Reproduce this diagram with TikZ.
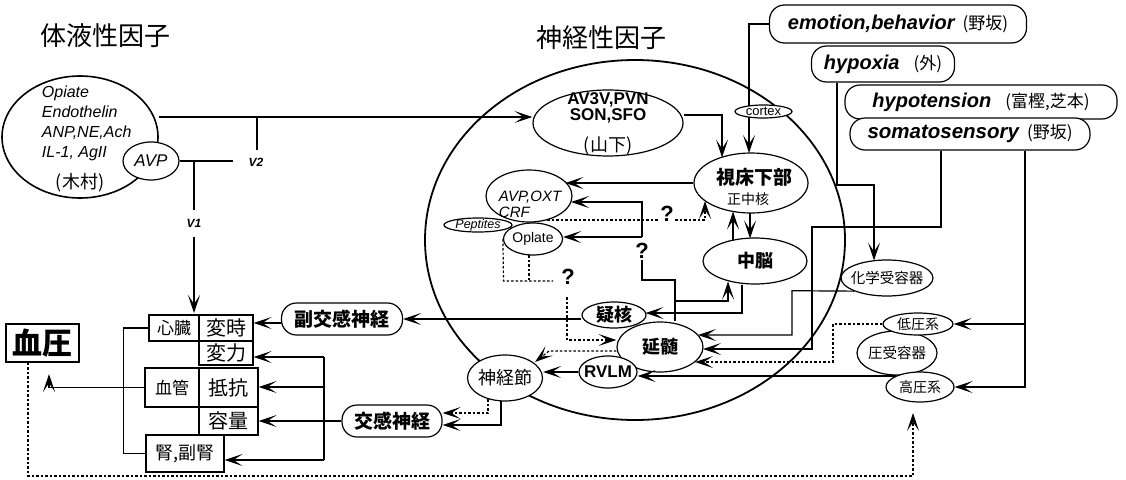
\documentclass[tikz,border=0pt]{standalone}
\usepackage{fontspec}
\setmainfont{Liberation Sans}
\newfontfamily\jp{Noto Sans CJK JP}
\usetikzlibrary{shapes.geometric,arrows.meta,calc}
\newcommand{\fsz}[2]{\fontsize{#1}{#2}\selectfont}
\begin{document}
\begin{tikzpicture}[x=1pt,y=-1pt,line width=1.2pt,
  el/.style={draw,ellipse,inner sep=0pt},
  stad/.style={draw,rectangle,rounded corners=15pt,inner sep=0pt,fill=white},
  bx/.style={draw,rectangle,inner sep=0pt},
  arr/.style={-{Stealth[length=18pt,width=12pt,inset=9pt]}},
  dot/.style={dash pattern=on 2.5pt off 2pt},
  jpl/.style={font=\jp\fsz{#1}{#1}},
  jpb/.style={font=\jp\bfseries\fsz{#1}{#1}},
  qm/.style={font=\bfseries\fsz{22}{22},inner sep=1pt}]
\useasboundingbox (0,0) rectangle (1126,479);

% titles
\node[jpl=26] (t1) at (105,36) {体液性因子};
\node[jpl=26] (t2) at (601,38) {神経性因子};

% humoral factors
\node[el,minimum width=156pt,minimum height=122pt,line width=1.6pt] (hum) at (80,137) {};
\node[anchor=west,align=left,font=\itshape\fsz{16}{20}] (humtxt) at (38,123) {Opiate\\Endothelin\\ANP,NE,Ach\\IL-1, AgII};
\node[jpl=18] (kimura) at (80,183) {(木村)};
\node[el,fill=white,minimum width=56pt,minimum height=38pt,label={[font=\itshape\fsz{17}{17}]center:AVP}] (avp) at (151,161) {};
\node[font=\bfseries\itshape\fsz{12}{12}] (v2) at (256,162) {V2};
\node[font=\bfseries\itshape\fsz{12}{12}] (v1) at (194,223) {V1};

% big circle (neural)
\node[el,minimum width=420pt,minimum height=360pt,line width=1.8pt] (big) at (635,240) {};

% inner nodes
\node[el,fill=white,minimum width=150pt,minimum height=66pt] (av3v) at (608,123) {};
\node[font=\bfseries\fsz{17}{17}] (av3vt) at (608,100) {AV3V,PVN};
\node[font=\bfseries\fsz{17}{17}] (sont) at (608,116) {SON,SFO};
\node[jpl=18] (yama) at (608,146) {(山下)};

\node[el,fill=white,minimum width=114pt,minimum height=60pt] (hypo) at (751,183) {};
\node[jpb=19] (hypot) at (754,177) {視床下部};
\node[jpl=14] (seichu) at (748,199) {正中核};

\node[el,fill=white,minimum width=104pt,minimum height=46pt,label={[jpb=18]center:中脳}] (mid) at (755,261) {};

\node[el,fill=white,minimum width=86pt,minimum height=52pt] (avpoxt) at (529,196) {};
\node[anchor=west,font=\itshape\fsz{15}{15}] (avpoxtt) at (495,197) {AVP,OXT};
\node[anchor=west,font=\itshape\fsz{15}{15}] (crf) at (495,212) {CRF};
\node[el,fill=white,minimum width=59pt,minimum height=32pt,label={[font=\fsz{14}{14}]center:Oplate}] (opi) at (533,239) {};
\node[el,fill=white,minimum width=68pt,minimum height=14pt,label={[font=\itshape\fsz{12.5}{12.5}]center:Peptites}] (pep) at (478,225) {};

\node[el,fill=white,minimum width=57pt,minimum height=13pt,label={[font=\fsz{13}{13}]center:cortex}] (cortex) at (763.5,111.5) {};

\node[el,fill=white,minimum width=86pt,minimum height=50pt,label={[jpb=18]center:延髄}] (enz) at (660,347) {};
\node[el,fill=white,minimum width=64pt,minimum height=26pt,label={[jpb=18]center:疑核}] (gi) at (614,315) {};
\node[el,fill=white,minimum width=58pt,minimum height=32pt,label={[font=\bfseries\fsz{17}{17}]center:RVLM}] (rvlm) at (608,372) {};
\node[el,fill=white,minimum width=75pt,minimum height=46pt,label={[jpl=18]center:神経節}] (sns) at (505,378) {};

\node[qm] (q1) at (667,214) {?};
\node[qm] (q2) at (642,251) {?};
\node[qm] (q3) at (568,277) {?};

% receptors (right)
\node[el,fill=white,minimum width=92pt,minimum height=36pt,label={[jpl=14.5]center:化学受容器}] (chem) at (887,278) {};
\node[el,fill=white,minimum width=80pt,minimum height=44pt,label={[jpl=14.5]center:圧受容器}] (atsu) at (897,353) {};
\node[el,fill=white,minimum width=70pt,minimum height=22pt,label={[jpl=14]center:低圧系}] (tei) at (918,324) {};
\node[el,fill=white,minimum width=68pt,minimum height=30pt,label={[jpl=14]center:高圧系}] (kou) at (920,387) {};

% inputs (top right)
\node[stad,minimum width=257pt,minimum height=38pt] (emo) at (898,24) {{\bfseries\itshape\fsz{20}{20}emotion,behavior}\hspace{8pt}{\jp\fsz{17}{17}(野坂)}};
\node[stad,minimum width=143pt,minimum height=36pt] (hypox) at (883,64) {{\bfseries\itshape\fsz{20}{20}hypoxia}\hspace{14pt}{\jp\fsz{17}{17}(外)}};
\node[stad,minimum width=272pt,minimum height=34pt] (hypot2) at (981,102) {{\bfseries\itshape\fsz{20}{20}hypotension}\hspace{14pt}{\jp\fsz{17}{17}(富樫,芝本)}};
\node[stad,minimum width=240pt,minimum height=32pt] (somato) at (970,134) {{\bfseries\itshape\fsz{20.5}{20.5}somatosensory}\hspace{8pt}{\jp\fsz{17}{17}(野坂)}};

% nerves
\node[stad,minimum width=121pt,minimum height=32pt,jpb=19] (fuku) at (342,319) {副交感神経};
\node[stad,minimum width=100pt,minimum height=32pt,jpb=19] (kk) at (392,421) {交感神経};

% effector boxes
\node[bx,minimum width=73pt,minimum height=38pt,jpb=30] (bp) at (42.5,343) {血圧};
\node[bx,minimum width=50pt,minimum height=26pt,jpl=17] (shinzo) at (174,328) {心臓};
\node[bx,minimum width=54pt,minimum height=26pt,jpl=20] (henji) at (226,328) {変時};
\node[bx,minimum width=54pt,minimum height=24pt,jpl=20] (henryoku) at (226,353) {変力};
\node[bx,minimum width=54pt,minimum height=39pt,jpl=17] (kekkan) at (172,387.5) {血管};
\node[bx,minimum width=59pt,minimum height=39pt,jpl=20] (teiko) at (228.5,387.5) {抵抗};
\node[bx,minimum width=59pt,minimum height=28pt,jpl=20] (youryou) at (228.5,421) {容量};
\node[bx,minimum width=78pt,minimum height=37pt,jpl=18] (jin) at (185,453.5) {腎,副腎};

% ---- connectors ----
% humoral
\draw[arr] (hum.east |- 0,117) -- (av3v.west |- 0,117);
\draw (257,117) -- (257,150);
\draw (avp.east) -- (233,161);
\draw (194,161) -- (194,210);
\draw[arr] (194,237) -- (194,313);

% effector side
\draw (shinzo.west) -- ++(-25,0) |- (jin.west);
\draw[arr] (kekkan.west) -| (49,374);
\draw[arr,dot] (bp.south -| 28,0) -- (28,476) -- (913,476) -- (913,413);
\draw[arr] (gi.west |- 0,319) -- (fuku.east |- 0,319);
\draw[arr] (fuku.west |- 0,323) -- (henji.east |- 0,323);
\draw[arr] (kk.west) -- (youryou.east |- kk.west);
\draw (324,357) -- (324,460);
\draw[arr] (324,357) -- (henryoku.east |- 0,357);
\draw[arr] (324,387) -- (teiko.east |- 0,387);
\draw[arr] (324,460) -- (jin.east |- 0,460);
\draw[arr,dot] (488,399) -- (488,413) -- (kk.east |- 0,413);
\draw[arr] (501,401) -- (501,425) -- (kk.east |- 0,425);

% inside circle
\draw[arr] (rvlm.west) -- (sns.east |- rvlm.west);
\draw[arr,dot] (enz.west |- 0,351) -- (549,351) -- (535,362);
\draw[arr,dot] (567,297) -- (567,340) -- (enz.west |- 0,340);
\draw[dot] (opi.west) -- (503.5,281) -- (553,281);
\draw[dot] (529,255) -- (529,281);
\draw[dot] (547,220) -- (q1.west |- 0,220);
\draw[arr,dot] (q1.east |- 0,220) -- (705,220) -- (705,201);
\draw[arr] (hypo.west) -- ++(-128,0);
\draw (enz.north -| 675,0) -- (675,280) -- (642,280) -- (q2.south);
\draw[arr] (642,237) -- (642,202) -- (571,202);
\draw[arr] (642,237) -- (opi.east |- 0,237);
\draw[arr] (675,301) -- (728,301) -- (728,281.5);
\draw[arr] (mid.south -| 742,0) -- (742,313) -- (645.5,313);
\draw[arr] (733,240.5) -- (733,211.5);
\draw[arr] (750,213) -- (750,238.5);
\draw[arr] (av3v.east |- 0,115) -- (722,115) -- (722,157.5);

% inputs
\draw (emo.west) -- (749,24) -- (749,106);
\draw[arr] (749,117) -- (749,153);
\draw[arr] (hypox.south -| 837,0) -- (837,185) -- (874,185) -- (874,260.5);
\draw[arr] (somato.south -| 941,0) -- (941,227) -- (812,227) -- (812,349) -- (703,349);
\draw[arr] (chem.south west) -- (792,290.7) -- (792,335) -- (698,335);
\draw[arr,dot] (tei.west) -- (833,324) -- (833,362) -- (695,362);
\draw[arr] (kou.north west) -- (rvlm.east |- kou.north west);
\draw[arr] (somato.south -| 1025,0) |- (kou.east);
\draw[arr] (1025,0 |- tei.east) -- (tei.east);
\end{tikzpicture}
\end{document}
